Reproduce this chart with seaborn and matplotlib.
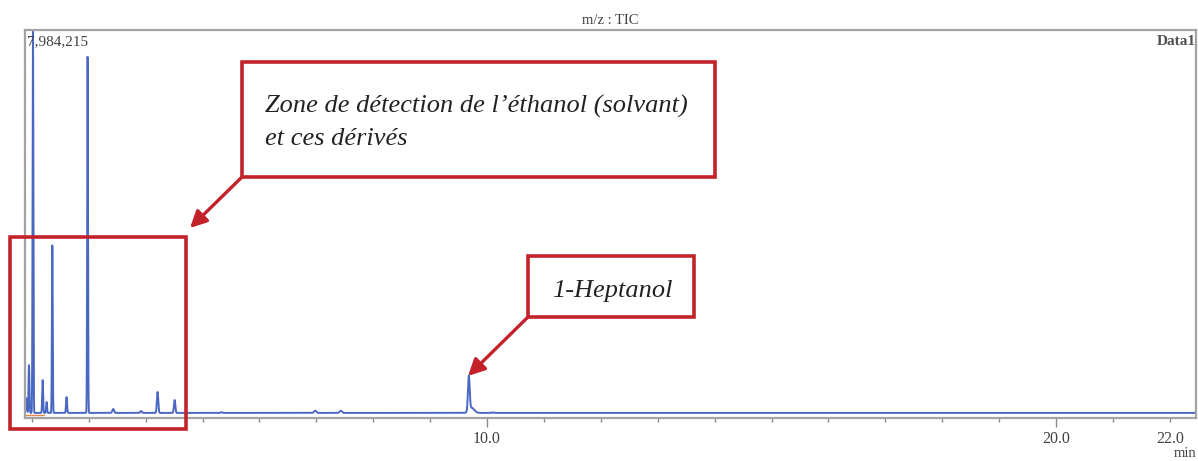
import numpy as np
import pandas as pd
import matplotlib
matplotlib.use("Agg")
import matplotlib.pyplot as plt
from matplotlib.patches import Rectangle, FancyArrowPatch
from matplotlib.ticker import FixedLocator, FuncFormatter
import seaborn as sns

# ---- chromatogram data (retention time in min, TIC intensity) ----
peak_times = [1.90, 1.95, 2.02, 2.19, 2.26, 2.36, 2.61, 2.98, 3.43, 3.92,
              4.21, 4.51, 5.33, 6.98, 7.43, 9.68, 9.73, 10.10]
peak_heights = [410000, 1090000, 7984215, 782000, 330000, 3560000, 432000,
                7450000, 185000, 144000, 535000, 370000, 120000, 150000,
                150000, 823000, 210000, 115000]
peak_sigmas = [0.010, 0.008, 0.007, 0.008, 0.008, 0.007, 0.009,
               0.007, 0.015, 0.015, 0.012, 0.012, 0.015, 0.020,
               0.020, 0.015, 0.045, 0.020]
baseline_level = 105000
time_range = [1.88, 22.46]
max_intensity = 7984215

# integration marker near the solvent front
marker_t = [1.90, 2.22]
marker_v = [70000, 70000]

major_ticks = [10, 20]
minor_ticks = [2, 3, 4, 5, 6, 7, 8, 9, 11, 12, 13, 14, 15, 16, 17, 18, 19, 21, 22]

# ---- build the trace ----
t = np.linspace(time_range[0], time_range[1], 24000)
signal = np.full_like(t, baseline_level, dtype=float)
for pt, ph, ps in zip(peak_times, peak_heights, peak_sigmas):
    signal += (ph - baseline_level) * np.exp(-0.5 * ((t - pt) / ps) ** 2)
trace = pd.DataFrame({"time": t, "intensity": signal})
marker = pd.DataFrame({"time": marker_t, "intensity": marker_v})

W, H = 1198, 461
sns.set_theme(style="white")
plt.rcParams["font.family"] = ["Liberation Serif", "DejaVu Serif"]

fig = plt.figure(figsize=(W / 100, H / 100), dpi=100)
fig.patch.set_facecolor("white")


def fx(x):
    return x / W


def fy(y):
    return 1 - y / H


ax = fig.add_axes([fx(25), fy(418), (1196 - 25) / W, (418 - 30) / H])
sns.lineplot(data=trace, x="time", y="intensity", ax=ax, color="#4a68c2",
             linewidth=1.4, estimator=None, sort=False)
sns.lineplot(data=marker, x="time", y="intensity", ax=ax, color="#e8854a",
             linewidth=1.0, estimator=None)

ax.set_xlim(time_range)
ax.set_ylim(0, 8.0e6)
ax.set_xlabel("")
ax.set_ylabel("")
ax.set_yticks([])

for s in ax.spines.values():
    s.set_color("#a3a3a3")
    s.set_linewidth(1.6)

ax.xaxis.set_major_locator(FixedLocator(major_ticks))
ax.xaxis.set_minor_locator(FixedLocator(minor_ticks))
ax.xaxis.set_major_formatter(FuncFormatter(lambda v, p: f"{v:.1f}"))
ax.xaxis.set_minor_formatter(FuncFormatter(lambda v, p: f"{v:.1f}" if abs(v - 22) < 1e-6 else ""))
ax.tick_params(axis="x", which="major", direction="out", length=6.5, width=1.0,
               color="#8a8a8a", pad=2.5, labelsize=11.5, labelcolor="#404040")
ax.tick_params(axis="x", which="minor", direction="out", length=3.2, width=1.0,
               color="#8a8a8a", pad=5.8, labelsize=11.5, labelcolor="#404040")
ax.tick_params(axis="x", bottom=True, which="both")

# header texts
fig.text(fx(610), fy(21), "m/z : TIC", ha="center", va="center",
         fontsize=10.5, color="#404040")
ax.text(0.0015, 0.97, f"{max_intensity:,}", transform=ax.transAxes,
        ha="left", va="center", fontsize=11, color="#404040")
ax.text(1.0, 0.97, "Data1", transform=ax.transAxes, ha="right", va="center",
        fontsize=11, color="#505050", fontweight="bold")
fig.text(fx(1196), fy(460), "min", ha="right", va="bottom", fontsize=10.5,
         color="#404040")

# annotation boxes and arrows
red = "#c4222b"


def box(x0, y0, x1, y1):
    fig.patches.append(Rectangle((fx(x0), fy(y1)), (x1 - x0) / W, (y1 - y0) / H,
                                 transform=fig.transFigure, fill=False,
                                 edgecolor=red, linewidth=2.6, zorder=5))


def arrow(x0, y0, x1, y1):
    fig.patches.append(FancyArrowPatch((fx(x0), fy(y0)), (fx(x1), fy(y1)),
                                       transform=fig.transFigure,
                                       arrowstyle="-|>,head_length=10,head_width=5",
                                       mutation_scale=1, color=red,
                                       linewidth=2.4, shrinkA=0, shrinkB=0,
                                       zorder=5))


box(242, 62, 715, 177)
arrow(242, 177, 190, 228)
box(10, 237, 186, 429)
box(528, 256, 694, 317)
arrow(528, 317, 468, 376)

txt = dict(fontsize=19, fontstyle="italic", color="#222222", va="baseline")
fig.text(fx(265), fy(113), "Zone de détection de l’éthanol (solvant)", ha="left", **txt)
fig.text(fx(265), fy(145), "et ces dérivés", ha="left", **txt)
fig.text(fx(612), fy(297), "1-Heptanol", ha="center", **txt)

fig.savefig("out.png", dpi=100, facecolor="white")
